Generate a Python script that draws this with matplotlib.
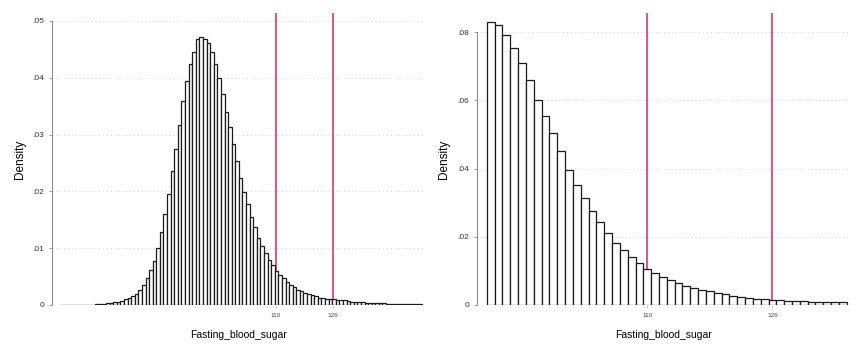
# Two Stata-style density histograms of fasting blood sugar, with cut-offs at 110 and 126

import numpy as np
from matplotlib import pyplot as plt
from matplotlib.ticker import FuncFormatter

plt.rcParams['font.family'] = ['Liberation Sans', 'DejaVu Sans']

# left panel: bins of width 1 starting at 49.75
LEFT_START = 49.75
left_density = [
    0.00003, 0.00003, 0.00003, 0.00003, 0.00003, 0.00003, 0.00003, 0.00003, 0.00003, 0.00003,
    0.0001, 0.0001, 0.0002, 0.0003, 0.0004, 0.0005, 0.0006, 0.0007, 0.0010, 0.0013,
    0.0016, 0.0020, 0.0027, 0.0036, 0.0047, 0.0061, 0.0078, 0.0101, 0.0128, 0.0160,
    0.0195, 0.0236, 0.0274, 0.0316, 0.0359, 0.0395, 0.0425, 0.0446, 0.0468, 0.0471,
    0.0468, 0.0462, 0.0445, 0.0425, 0.0399, 0.0372, 0.0339, 0.0314, 0.0284, 0.0253,
    0.0224, 0.0199, 0.0177, 0.0155, 0.0137, 0.0118, 0.0104, 0.0091, 0.0080, 0.0070,
    0.0060, 0.0053, 0.0047, 0.0041, 0.0036, 0.0031, 0.0027, 0.0024, 0.0021, 0.0019,
    0.0017, 0.0015, 0.0013, 0.0012, 0.0011, 0.0010, 0.0010, 0.0009, 0.0008, 0.0008,
    0.0007, 0.0006, 0.0006, 0.0005, 0.0005, 0.0004, 0.0004, 0.0004, 0.0003, 0.0003,
    0.0003, 0.0002, 0.0002, 0.0002, 0.0002, 0.0001, 0.0001, 0.0001, 0.0001, 0.0001,
    0.0001,
]

# right panel: bins of width 1 centred on 90..135
right_centers = list(range(90, 136))
right_density = [
    0.0830, 0.0821, 0.0792, 0.0753, 0.0710, 0.0660, 0.0602, 0.0554, 0.0504, 0.0451,
    0.0397, 0.0353, 0.0315, 0.0276, 0.0242, 0.0210, 0.0183, 0.0162, 0.0141, 0.0124,
    0.0105, 0.0093, 0.0081, 0.0072, 0.0064, 0.0056, 0.0050, 0.0045, 0.0040, 0.0035,
    0.0031, 0.0027, 0.0024, 0.0021, 0.0019, 0.0017, 0.0015, 0.0014, 0.0013, 0.0012,
    0.0011, 0.0010, 0.0010, 0.0009, 0.0008, 0.0008,
]

cutoffs = [110, 126]
left_yticks = [0, 0.01, 0.02, 0.03, 0.04, 0.05]
right_yticks = [0, 0.02, 0.04, 0.06, 0.08]

RED = '#dc2457'
GREY = '#8c8c8c'


def stata_fmt(v, pos):
    if v == 0:
        return '0'
    return ('%g' % v).lstrip('0')


def style_axes(ax, yticks, ylim, xlim):
    ax.set_xlim(*xlim)
    ax.set_ylim(0, ylim)
    for side in ['top', 'right', 'bottom']:
        ax.spines[side].set_visible(False)
    ax.spines['left'].set_color(GREY)
    ax.spines['left'].set_linewidth(0.8)
    ax.spines['left'].set_bounds(0, yticks[-1])
    ax.set_yticks(yticks)
    ax.yaxis.set_major_formatter(FuncFormatter(stata_fmt))
    ax.tick_params(axis='y', labelsize=6, length=2.5, width=0.6, color=GREY,
                   labelcolor='#333333', pad=3)
    ax.set_xticks(cutoffs)
    ax.set_xticklabels([str(c) for c in cutoffs])
    ax.tick_params(axis='x', labelsize=4.6, length=2.5, width=0.6, color='#bbbbbb',
                   labelcolor='#444444', pad=3)
    for t in yticks[1:]:
        ax.axhline(t, color='#cfcfcf', lw=0.7, ls=(0, (1, 3)), zorder=0)
    for c in cutoffs:
        ax.axvline(c, color=RED, lw=1.1, zorder=1)
    ax.set_ylabel('Density', fontsize=8.5, labelpad=5)
    ax.set_xlabel('Fasting_blood_sugar', fontsize=7.5, labelpad=9)


fig = plt.figure(figsize=(8.64, 3.57), dpi=100)
ax1 = fig.add_axes([0.0602, 0.1457, 0.4317, 0.8179])
ax2 = fig.add_axes([0.5517, 0.1457, 0.4329, 0.8179])

left_edges = LEFT_START + np.arange(len(left_density))
ax1.bar(left_edges, left_density, width=1, align='edge', color='white',
        edgecolor='#1a1a1a', linewidth=0.9, zorder=2)
style_axes(ax1, left_yticks, 0.0514, (47.7, 151.6))

ax2.bar(right_centers, right_density, width=1, color='white',
        edgecolor='#1a1a1a', linewidth=0.9, zorder=2)
style_axes(ax2, right_yticks, 0.0856, (88.2, 136.0))

fig.savefig('out.png', dpi=100)
